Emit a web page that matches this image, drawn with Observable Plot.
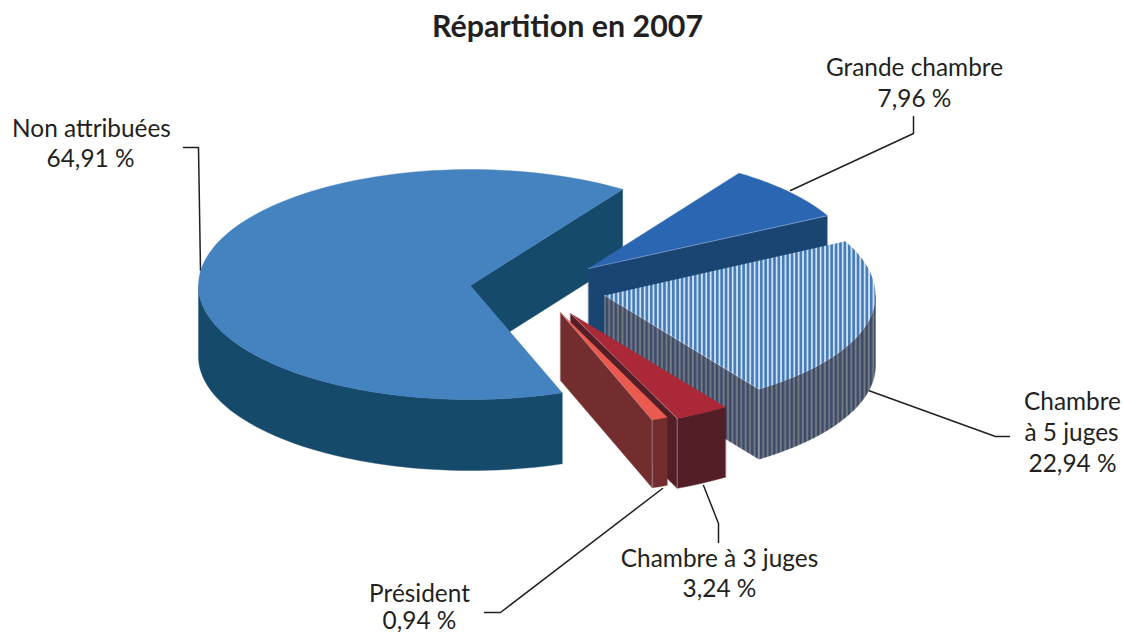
<!DOCTYPE html>
<html lang="fr">
<head>
<meta charset="utf-8">
<script src="https://cdn.jsdelivr.net/npm/d3@7"></script>
<script src="https://cdn.jsdelivr.net/npm/@observablehq/plot@0.6"></script>
<style>html,body{margin:0;padding:0;background:#fff;overflow:hidden}svg{display:block}</style>
</head>
<body>
<div id="chart"></div>
<script>
// Data: clockwise from the start angle
const categories = ["Grande chambre", "Chambre à 5 juges", "Chambre à 3 juges", "Président", "Non attribuées"];
const shares = [7.96, 22.94, 3.24, 0.94, 64.91];

// Style & layout (one entry per slice)
const topFills = ["#2a66b1", "url(#hatchTop)", "#aa2838", "#eb5a4e", "#4482c0"];
const sideFills = ["#1a4472", "url(#hatchSide)", "#541e27", "#732d2e", "#154a6b"];
const apexX = [588, 604, 570, 560, 470];
const apexY = [268, 295, 313, 312, 285];
const radiusX = [269, 271, 272, 272, 272];
const radiusYBack = [115, 118, 118, 118, 116];
const radiusYFront = [114, 114, 114, 114, 114];
const depths = [72, 70, 70, 68, 71];
const startAngle = 34;
const paintOrder = [4, 0, 1, 2, 3];

const titleText = "Répartition en 2007";
const labelFont = "Lato";

const fmt = (v) => v.toFixed(2).replace(".", ",") + " %";
const labelRows = [
  {t: categories[0], x: 914, y: 75},
  {t: fmt(shares[0]), x: 914, y: 106},
  {t: categories[4], x: 91, y: 136},
  {t: fmt(shares[4]), x: 90, y: 166},
  {t: "Chambre", x: 1072, y: 409},
  {t: "à 5 juges", x: 1071, y: 440},
  {t: fmt(shares[1]), x: 1072, y: 471},
  {t: categories[2], x: 719, y: 566},
  {t: fmt(shares[2]), x: 719, y: 596},
  {t: categories[3], x: 419, y: 601},
  {t: fmt(shares[3]), x: 419, y: 628}
];
const leaders = [
  [[790, 190], [913, 133], [913, 116]],
  [[183, 147], [198, 147], [200, 270]],
  [[868, 390], [995, 436], [1009, 436]],
  [[703, 485], [718, 523], [718, 542]],
  [[662, 488], [500, 612], [484, 612]]
];

// Angular extents derived from the shares
const total = d3.sum(shares);
let cursor = startAngle;
const slices = shares.map((v, i) => {
  const a0 = cursor;
  const a1 = cursor + v / total * 360;
  cursor = a1;
  return {i, a0, a1, cx: apexX[i], cy: apexY[i], rx: radiusX[i], ryB: radiusYBack[i], ryF: radiusYFront[i], d: depths[i]};
});
const pt = (s, a, dz = 0) => {
  const r = a * Math.PI / 180;
  const c = Math.cos(r);
  return [s.cx + s.rx * Math.sin(r), s.cy - (c > 0 ? s.ryB : s.ryF) * c + dz];
};
const arc = (s, a0, a1, dz = 0) => {
  const out = [];
  const n = Math.max(2, Math.ceil((a1 - a0) / 2));
  for (let k = 0; k <= n; ++k) out.push(pt(s, a0 + (a1 - a0) * k / n, dz));
  return out;
};
const poly = (points, fill, stroke = fill, sw = 0.4) =>
  Plot.line(points, {x: "0", y: "1", fill, stroke, strokeWidth: sw, curve: "linear-closed"});

const sliceMarks = [];
for (const idx of paintOrder) {
  const s = slices[idx];
  const end = pt(s, s.a1);
  const apex = [s.cx, s.cy];
  // cut face at the clockwise end
  sliceMarks.push(poly([apex, end, pt(s, s.a1, s.d), [s.cx, s.cy + s.d]], sideFills[idx]));
  // outer wall on the front half
  const w0 = Math.max(s.a0, 90), w1 = Math.min(s.a1, 270);
  if (w1 > w0) {
    sliceMarks.push(poly([...arc(s, w0, w1), ...arc(s, w0, w1, s.d).reverse()], sideFills[idx]));
  }
  // top face
  sliceMarks.push(poly([apex, ...arc(s, s.a0, s.a1)], topFills[idx], idx === 1 ? "none" : topFills[idx]));
  // thin light edges
  if (idx !== 4) {
    sliceMarks.push(Plot.line([apex, end], {x: "0", y: "1", stroke: "#d9e2ec", strokeWidth: 0.5, strokeOpacity: 0.7}));
    sliceMarks.push(Plot.line([end, pt(s, s.a1, s.d)], {x: "0", y: "1", stroke: "#d9e2ec", strokeWidth: 0.6, strokeOpacity: 0.7}));
  }
}

const defsMark = () => {
  const defs = d3.create("svg:defs");
  const top = defs.append("pattern").attr("id", "hatchTop").attr("patternUnits", "userSpaceOnUse")
    .attr("width", 4.4).attr("height", 10);
  top.append("rect").attr("width", 4.4).attr("height", 10).attr("fill", "#3f78b8");
  top.append("rect").attr("x", 0.8).attr("width", 1.9).attr("height", 10).attr("fill", "#cfe0f2");
  const side = defs.append("pattern").attr("id", "hatchSide").attr("patternUnits", "userSpaceOnUse")
    .attr("width", 4.4).attr("height", 10);
  side.append("rect").attr("width", 4.4).attr("height", 10).attr("fill", "#3b4a68");
  side.append("rect").attr("x", 0.6).attr("width", 1.8).attr("height", 10).attr("fill", "#7a7e85");
  return defs.node();
};

const plot = Plot.plot({
  width: 1123,
  height: 632,
  margin: 0,
  x: {domain: [0, 1123], range: [0, 1123], axis: null},
  y: {domain: [0, 632], range: [0, 632], axis: null},
  style: {background: "#fff"},
  marks: [
    defsMark,
    ...leaders.map((l) => Plot.line(l, {x: "0", y: "1", stroke: "#231f20", strokeWidth: 1.5})),
    ...sliceMarks,
    Plot.text(labelRows, {
      x: "x", y: "y", text: "t", textAnchor: "middle", lineAnchor: "bottom",
      fontFamily: labelFont, fontSize: 24.4, fill: "#231f20"
    }),
    Plot.text([titleText], {
      x: () => 567, y: () => 36, text: (d) => d, textAnchor: "middle", lineAnchor: "bottom",
      fontFamily: labelFont, fontWeight: 700, fontSize: 30.4, fill: "#231f20"
    })
  ]
});
document.getElementById("chart").append(plot);
</script>
</body>
</html>
